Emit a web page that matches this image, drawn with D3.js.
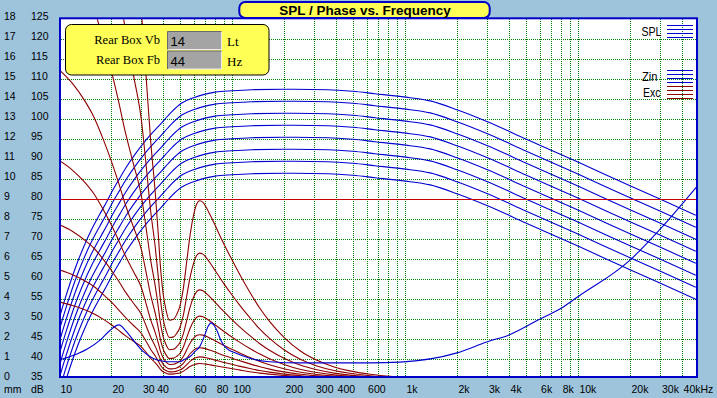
<!DOCTYPE html>
<html><head><meta charset="utf-8">
<script src="https://cdn.jsdelivr.net/npm/d3@7"></script>
<style>
html,body{margin:0;padding:0;background:#9ec4dc;}
svg{display:block;}
</style></head><body>
<svg id="c" width="717" height="398"></svg>
<script>
// ---------- DATA ----------
const dbTicks = [125,120,115,110,105,100,95,90,85,80,75,70,65,60,55,50,45,40,35];
const mmTicks = [18,17,16,15,14,13,12,11,10,9,8,7,6,5,4,3,2,1,0];
const gridFreqs = [20,30,40,50,60,70,80,90,100,200,300,400,500,600,700,800,900,1000,2000,3000,4000,5000,6000,7000,8000,9000,10000,20000,30000,40000];
const xLabelFreqs = [10,20,30,40,60,80,100,200,300,400,600,1000,2000,3000,4000,6000,8000,10000,20000,30000,40000];
const xLabelTexts = ["10","20","30","40","60","80","100","200","300","400","600","1k","2k","3k","4k","6k","8k","10k","20k","30k","40kHz"];

// SPL (dB) – eight drive levels
const splFreq = [10,11,12,13,14,15.4,17.2,19,20.5,22.5,24.5,27.6,31.6,35,39,44.7,51,60,70,80,100,130,200,360,500,670,980,1400,2000,3000,5000,10000,20000,30000,48000];
const spl1 = [50,55.9,60.9,65,68.4,72.3,76.2,79.6,82.3,85.3,88,91.3,94.6,96.8,99,101.8,104,105.4,106.3,106.8,107.15,107.4,107.5,107.4,107,106.4,105.6,104.6,102.4,99.4,95.1,89.3,83.4,80,76];
const spl2 = [47,52.9,57.9,62,65.4,69.3,73.2,76.6,79.3,82.3,85,88.3,91.6,93.8,96,98.8,101,102.4,103.3,103.8,104.15,104.4,104.5,104.4,104,103.4,102.6,101.6,99.4,96.4,92.1,86.3,80.4,77,73];
const spl3 = [44,49.9,54.9,59,62.4,66.3,70.2,73.6,76.3,79.3,82,85.3,88.6,90.8,93,95.8,98,99.4,100.3,100.8,101.15,101.4,101.5,101.4,101,100.4,99.6,98.6,96.4,93.4,89.1,83.3,77.4,74,70];
const spl4 = [41,46.9,51.9,56,59.4,63.3,67.2,70.6,73.3,76.3,79,82.3,85.6,87.8,90,92.8,95,96.4,97.3,97.8,98.15,98.4,98.5,98.4,98,97.4,96.6,95.6,93.4,90.4,86.1,80.3,74.4,71,67];
const spl5 = [38,43.9,48.9,53,56.4,60.3,64.2,67.6,70.3,73.3,76,79.3,82.6,84.8,87,89.8,92,93.4,94.3,94.8,95.15,95.4,95.5,95.4,95,94.4,93.6,92.6,90.4,87.4,83.1,77.3,71.4,68,64];
const spl6 = [35,40.9,45.9,50,53.4,57.3,61.2,64.6,67.3,70.3,73,76.3,79.6,81.8,84,86.8,89,90.4,91.3,91.8,92.15,92.4,92.5,92.4,92,91.4,90.6,89.6,87.4,84.4,80.1,74.3,68.4,65,61];
const spl7 = [32,37.9,42.9,47,50.4,54.3,58.2,61.6,64.3,67.3,70,73.3,76.6,78.8,81,83.8,86,87.4,88.3,88.8,89.15,89.4,89.5,89.4,89,88.4,87.6,86.6,84.4,81.4,77.1,71.3,65.4,62,58];
const spl8 = [29,34.9,39.9,44,47.4,51.3,55.2,58.6,61.3,64.3,67,70.3,73.6,75.8,78,80.8,83,84.4,85.3,85.8,86.15,86.4,86.5,86.4,86,85.4,84.6,83.6,81.4,78.4,74.1,68.3,62.4,59,55];

// Input impedance (plotted on dB grid)
const zinFreq = [10,12.5,14.5,17.3,19.7,22.2,24.6,26.9,30.8,35.1,42,50,53.3,57.4,61,65.4,69.6,73,75.8,78.5,81.7,87.1,93.2,106,127,165,250,630,935,2000,3000,4000,6000,8000,10000,20000,29500,48700];
const zinVal  = [39.8,41.2,42.5,44.8,47.2,48.6,46.9,44.8,41.9,40.2,39.4,39.4,40.0,40.7,41.9,43.3,46.0,48.3,49.1,48.6,47.3,44.4,42.75,41.5,40.25,39.4,39.1,39.1,39.3,41.6,44.4,46.1,50.0,52.75,55.65,64.8,72.3,83.2];

// Cone excursion (mm) – eight drive levels
const excFreq = [10,12,14,16,18,20,22,24,27,30,32,34,36,37.5,38.5,40,41.5,43.5,46,48,50,52.5,55,57.5,60,62.5,65,68,71,75,80,85,90,97,110,127,145,165,200,250,310,390,480,630,950,1500];
const exc1 = [43.8,41.8,39.5,37,34,31,28,25,21.5,18.3,15,11.8,9.4,7.3,5.8,4.3,3.5,2.95,3.0,3.25,3.65,4.6,6.0,7.3,8.2,8.75,8.93,8.85,8.6,8.2,7.7,7.2,6.75,6.2,5.3,4.35,3.55,2.9,2.1,1.4,0.95,0.62,0.42,0.25,0.11,0.045];
const exc2 = [30.97,29.56,27.93,26.16,24.04,21.92,19.8,17.68,15.2,12.94,10.61,8.34,6.65,5.16,4.1,3.04,2.47,2.09,2.12,2.3,2.58,3.25,4.24,5.16,5.8,6.19,6.31,6.26,6.08,5.8,5.44,5.09,4.77,4.38,3.75,3.08,2.51,2.05,1.48,0.99,0.67,0.44,0.3,0.18,0.08,0.03];
const exc3 = [21.9,20.9,19.75,18.5,17,15.5,14,12.5,10.75,9.15,7.5,5.9,4.7,3.65,2.9,2.15,1.75,1.48,1.5,1.63,1.83,2.3,3.0,3.65,4.1,4.38,4.47,4.43,4.3,4.1,3.85,3.6,3.38,3.1,2.65,2.18,1.78,1.45,1.05,0.7,0.48,0.31,0.21,0.13,0.06,0.02];
const exc4 = [15.49,14.78,13.97,13.08,12.02,10.96,9.9,8.84,7.6,6.47,5.3,4.17,3.32,2.58,2.05,1.52,1.24,1.04,1.06,1.15,1.29,1.63,2.12,2.58,2.9,3.09,3.16,3.13,3.04,2.9,2.72,2.55,2.39,2.19,1.87,1.54,1.26,1.03,0.74,0.49,0.34,0.22,0.15,0.09,0.04,0.02];
const exc5 = [10.95,10.45,9.88,9.25,8.5,7.75,7.0,6.25,5.38,4.58,3.75,2.95,2.35,1.83,1.45,1.08,0.88,0.74,0.75,0.81,0.91,1.15,1.5,1.83,2.05,2.19,2.23,2.21,2.15,2.05,1.93,1.8,1.69,1.55,1.33,1.09,0.89,0.73,0.53,0.35,0.24,0.16,0.11,0.06,0.03,0.01];
const exc6 = [7.74,7.39,6.98,6.54,6.01,5.48,4.95,4.42,3.8,3.24,2.65,2.09,1.66,1.29,1.03,0.76,0.62,0.52,0.53,0.57,0.65,0.81,1.06,1.29,1.45,1.55,1.58,1.56,1.52,1.45,1.36,1.27,1.19,1.1,0.94,0.77,0.63,0.51,0.37,0.25,0.17,0.11,0.07,0.04,0.02,0.01];
const exc7 = [5.48,5.23,4.94,4.63,4.25,3.88,3.5,3.13,2.69,2.29,1.88,1.48,1.18,0.91,0.73,0.54,0.44,0.37,0.38,0.41,0.46,0.58,0.75,0.91,1.03,1.09,1.12,1.11,1.08,1.03,0.96,0.9,0.84,0.78,0.66,0.54,0.44,0.36,0.26,0.18,0.12,0.08,0.05,0.03,0.01,0.01];
const exc8 = [3.87,3.69,3.49,3.27,3.01,2.74,2.47,2.21,1.9,1.62,1.33,1.04,0.83,0.65,0.51,0.38,0.31,0.26,0.27,0.29,0.32,0.41,0.53,0.65,0.72,0.77,0.79,0.78,0.76,0.72,0.68,0.64,0.6,0.55,0.47,0.38,0.31,0.26,0.19,0.12,0.08,0.05,0.04,0.02,0.01,0];
const xmaxMm = 9;

const titleText = "SPL / Phase vs. Frequency";
const paramLabels = ["Rear Box Vb","Rear Box Fb"];
const paramValues = ["14","44"];
const paramUnits = ["Lt","Hz"];
const legendNames = ["SPL","Zin","Exc"];

// ---------- DRAW ----------
const splSeries = [spl1,spl2,spl3,spl4,spl5,spl6,spl7,spl8];
const excSeries = [exc1,exc2,exc3,exc4,exc5,exc6,exc7,exc8];
const BLUE = "#0000d0", DRED = "#8c0000", RED = "#c80000", GRID = "#008000";
const svg = d3.select("#c");
const L = 60, T = 18.3, R = 697, B = 377;

const x = d3.scaleLog().domain([10, 40000]).range([58.9, 682.1]);
const yDb = d3.scaleLinear().domain([35, 125]).range([379.3, 19.3]);
const yMm = d3.scaleLinear().domain([0, 18]).range([379.3, 19.3]);

svg.append("rect").attr("width",717).attr("height",398).attr("fill","#9ec4dc");
svg.append("rect").attr("x",L).attr("y",T).attr("width",R-L).attr("height",B-T).attr("fill","#ffffff");

svg.append("defs").append("clipPath").attr("id","clip")
  .append("rect").attr("x",L+1).attr("y",T+1).attr("width",R-L-2).attr("height",B-T-2);

// grid
const grid = svg.append("g").attr("stroke",GRID).attr("stroke-dasharray","1,1").attr("shape-rendering","crispEdges");
grid.selectAll("line.h").data(dbTicks.filter(d=>d>35 && d<125)).join("line").attr("class","h")
  .attr("x1",L+1).attr("x2",R-1)
  .attr("y1",d=>Math.round(yDb(d))+0.5).attr("y2",d=>Math.round(yDb(d))+0.5);
grid.selectAll("line.v").data(gridFreqs).join("line").attr("class","v")
  .attr("y1",T+1).attr("y2",B-1)
  .attr("x1",d=>Math.round(x(d))+0.5).attr("x2",d=>Math.round(x(d))+0.5);

const plot = svg.append("g").attr("clip-path","url(#clip)").attr("fill","none");
const lineDb = d3.line().x(d=>x(d[0])).y(d=>yDb(d[1])).curve(d3.curveMonotoneX);
const lineMm = d3.line().x(d=>x(d[0])).y(d=>yMm(d[1])).curve(d3.curveMonotoneX);

splSeries.forEach(s=>{
  plot.append("path").attr("d",lineDb(splFreq.map((f,i)=>[f,s[i]])))
    .attr("stroke",BLUE).attr("stroke-width",1.1);
});
excSeries.forEach(s=>{
  plot.append("path").attr("d",lineMm(excFreq.map((f,i)=>[f,s[i]])))
    .attr("stroke",DRED).attr("stroke-width",1.1);
});
plot.append("path").attr("d",lineDb(zinFreq.map((f,i)=>[f,zinVal[i]])))
  .attr("stroke",BLUE).attr("stroke-width",1.1);
plot.append("line").attr("x1",L).attr("x2",R)
  .attr("y1",Math.round(yMm(xmaxMm))+0.5).attr("y2",Math.round(yMm(xmaxMm))+0.5)
  .attr("stroke",RED).attr("stroke-width",1.2);

// border
svg.append("rect").attr("x",L).attr("y",T).attr("width",R-L).attr("height",B-T)
  .attr("fill","none").attr("stroke","#0000c8").attr("stroke-width",2);

// axes labels
const font = "'Liberation Sans', Arial, sans-serif";
const gDb = svg.append("g").attr("transform","translate(31,0)")
  .call(d3.axisLeft(yDb).tickValues(dbTicks).tickSize(0).tickPadding(0));
const gMm = svg.append("g").attr("transform","translate(4,0)")
  .call(d3.axisLeft(yMm).tickValues(mmTicks).tickSize(0).tickPadding(0));
[gDb,gMm].forEach(g=>{
  g.select(".domain").remove();
  g.selectAll("text").attr("x",0).attr("dy",null).attr("y",0.5)
    .attr("text-anchor","start").attr("font-family",font).attr("font-size","10.5px").attr("fill","#000");
});
const gX = svg.append("g").attr("transform","translate(0,393)")
  .call(d3.axisBottom(x).tickValues(xLabelFreqs).tickFormat((d,i)=>xLabelTexts[i]).tickSize(0).tickPadding(0));
gX.select(".domain").remove();
gX.selectAll("text").attr("y",0).attr("dy",null)
  .attr("text-anchor",(d,i)=>xLabelTexts[i]==="40"?"middle":"start")
  .attr("x",(d,i)=>xLabelTexts[i]==="40"?-0.5:1)
  .attr("font-family",font).attr("font-size","10.5px").attr("fill","#000");
svg.append("text").attr("x",4).attr("y",393).text("mm").attr("font-family",font).attr("font-size","10.5px");
svg.append("text").attr("x",31).attr("y",393).text("dB").attr("font-family",font).attr("font-size","10.5px");

// title box
svg.append("rect").attr("x",239.3).attr("y",2).attr("width",250.4).attr("height",16).attr("rx",6)
  .attr("fill","#ffff55").attr("stroke","#0000c8").attr("stroke-width",2);
svg.append("text").attr("x",365).attr("y",15).attr("text-anchor","middle").text(titleText)
  .attr("font-family",font).attr("font-weight","bold").attr("font-size","13.5px").attr("fill","#000");

// parameter box
svg.append("rect").attr("x",65.5).attr("y",24.5).attr("width",203.5).attr("height",50.5).attr("rx",6)
  .attr("fill","#ffff55").attr("stroke","#000").attr("stroke-width",1);
const serif = "'Liberation Serif', 'Times New Roman', serif";
paramLabels.forEach((lab,i)=>{
  const by = 31.5 + i*19.5;
  svg.append("text").attr("x",160).attr("y",44+i*20).attr("text-anchor","end").text(lab)
    .attr("font-family",serif).attr("font-size","12.5px").attr("fill","#000");
  svg.append("rect").attr("x",167.5).attr("y",by).attr("width",54).attr("height",18).attr("fill","#a4a4a4");
  svg.append("path").attr("d",`M167.5,${by+18}V${by}H221.5`).attr("fill","none").attr("stroke","#6a6a6a");
  svg.append("path").attr("d",`M168.5,${by+18}H221.5V${by+1}`).attr("fill","none").attr("stroke","#ececec");
  svg.append("text").attr("x",170.5).attr("y",46+i*20).text(paramValues[i])
    .attr("font-family",font).attr("font-size","13px").attr("fill","#000");
  svg.append("text").attr("x",227).attr("y",46+i*20).text(paramUnits[i])
    .attr("font-family",serif).attr("font-size","13px").attr("fill","#000");
});

// legend
const legY = [36, 81, 96.5];
const legEnd = [661.5, 657.5, 660.5];
const legW = [20, 15.5, 17.5];
const legLines = [25.5, 70.5, 86.5];
const legCol = [BLUE, BLUE, DRED];
legendNames.forEach((n,i)=>{
  svg.append("text").attr("x",legEnd[i]-legW[i]).attr("y",legY[i]).text(n)
    .attr("textLength",legW[i]).attr("lengthAdjust","spacingAndGlyphs")
    .attr("font-family",font).attr("font-size","13.5px").attr("fill","#000");
  for(let k=0;k<4;k++){
    svg.append("line").attr("x1",666.5).attr("x2",692.5)
      .attr("y1",legLines[i]+k*4).attr("y2",legLines[i]+k*4)
      .attr("stroke",legCol[i]).attr("stroke-width",1).attr("shape-rendering","crispEdges");
  }
});
</script>
</body></html>
